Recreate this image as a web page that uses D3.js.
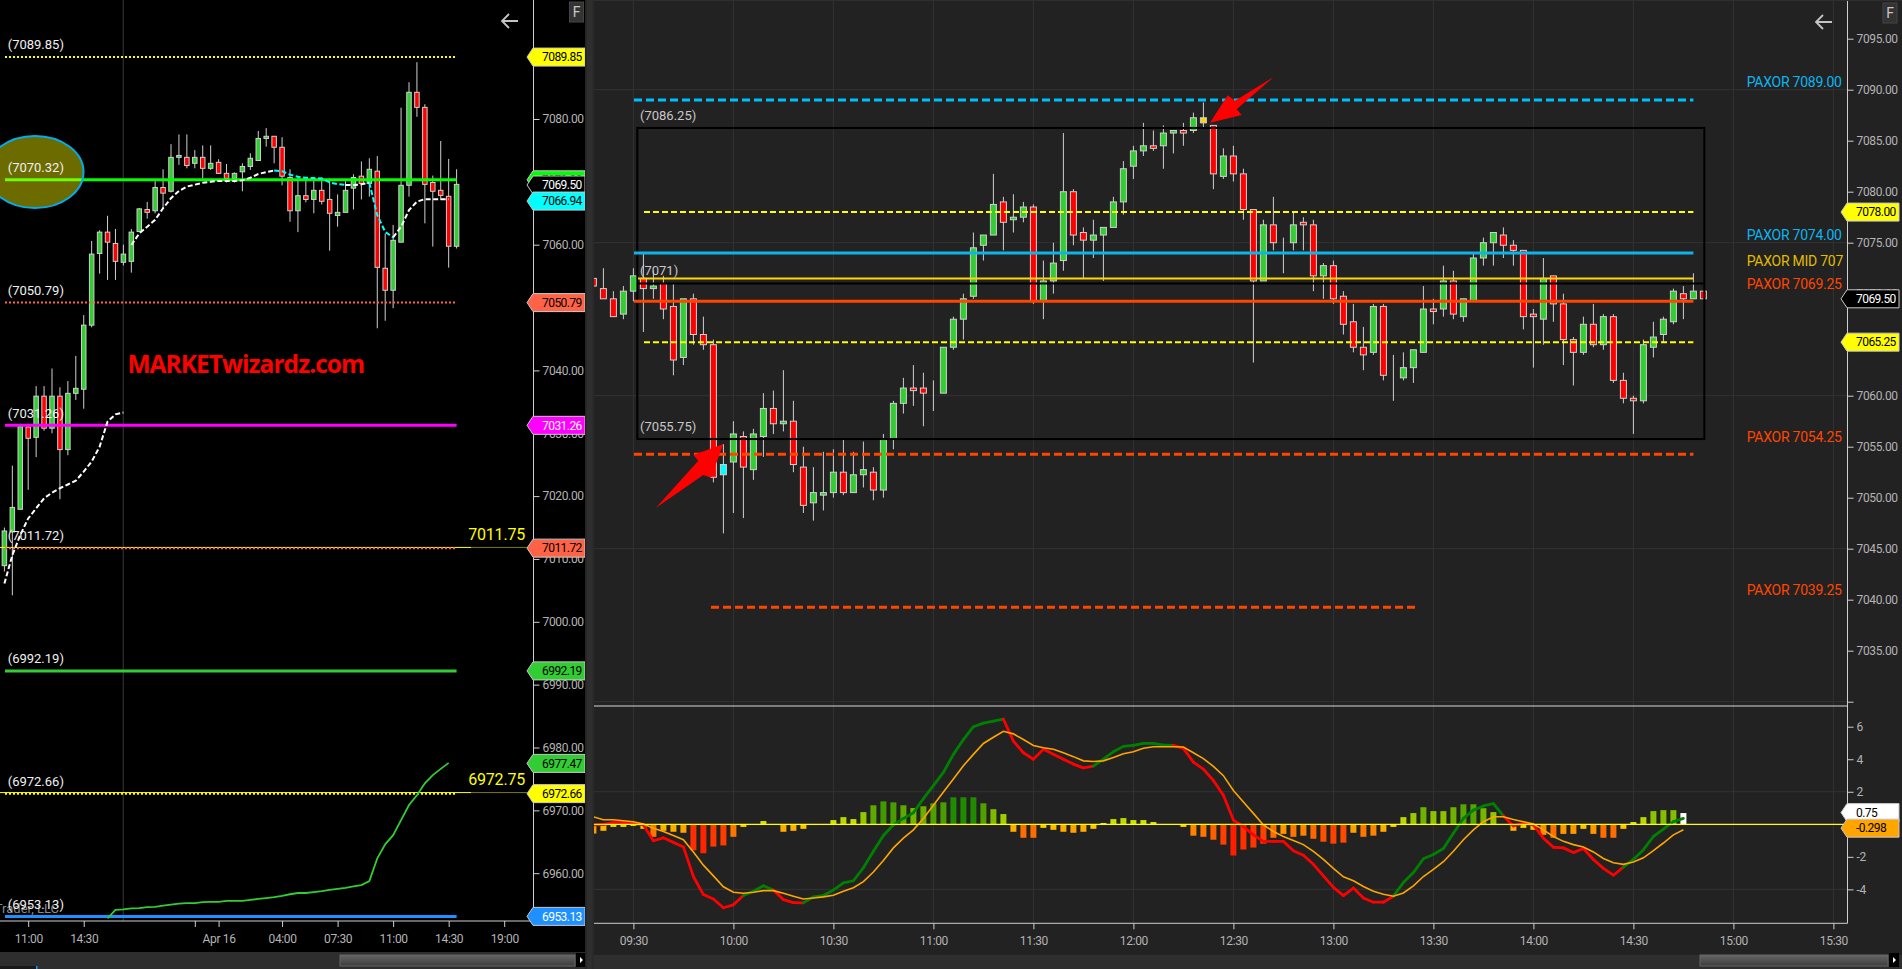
<!DOCTYPE html>
<html>
<head>
<meta charset="utf-8">
<title>MARKETwizardz</title>
<script src="https://cdn.jsdelivr.net/npm/d3@7"></script>
<style>
  html, body { margin: 0; padding: 0; background: #222; overflow: hidden; }
  svg { display: block; }
  text { font-family: Roboto, "Open Sans", sans-serif; }
</style>
</head>
<body>
<svg id="chart" width="1902" height="969"></svg>
<script>
//left chart data, 30 minute bars
var leftOpen = [7008.93,7014.3,7017.9,7031,7029.35,7035.9,7030.8,7035.9,7027.4,7036.35,7037,7047.2,7058.6,7062,7060.2,7057.2,7057.35,7062.1,7065.6,7065.4,7069.1,7068.5,7073.9,7073.9,7072.95,7073.9,7072.15,7073.1,7071.35,7070.55,7071.6,7072.45,7073.4,7076.9,7077.25,7075.5,7070.7,7065.4,7067.8,7067.2,7068.65,7067.2,7064.65,7065.15,7069,7070.9,7069.75,7071.7,7056.25,7052.75,7060.4,7069.45,7084.25,7081.85,7069.9,7068.65,7067.7,7059.75];
var leftHigh = [7015,7024.84,7031.5,7031.5,7037.5,7037.5,7040.3,7037.3,7038.3,7042.3,7048.8,7060.6,7062.3,7064.6,7062.5,7060,7062.5,7065.85,7066.8,7070.15,7072,7076,7077.55,7077.55,7075.05,7075.8,7075.8,7073.6,7072.85,7071.5,7072.95,7074.55,7078.1,7078.55,7077.25,7077.1,7072,7070.7,7070.3,7070.7,7070.7,7070.55,7068,7070.1,7071.2,7073.25,7073.75,7074.1,7061.8,7063.15,7081.8,7085.85,7089.05,7082.35,7071,7076.5,7073.65,7072];
var leftLow = [7008,7004.2,7017.9,7021,7026.2,7030.4,7030,7019.5,7026.5,7035.3,7033.9,7046.85,7055.4,7054.4,7054.4,7056.7,7055.55,7062,7064.15,7065,7065.8,7068.3,7072.7,7072.15,7072.15,7070.55,7071.9,7071.25,7069.9,7069.9,7068.5,7071.9,7073.4,7075.6,7072.95,7069.45,7063.65,7062,7066.75,7065,7066.4,7059.05,7062.85,7065.15,7065.6,7067.2,7067.65,7046.7,7047.9,7049.9,7060.4,7067.65,7080.35,7063.4,7059.7,7067.1,7056.35,7059.4];
var leftClose = [7014.45,7018.2,7031.05,7029.2,7035.9,7030.8,7035.9,7027.4,7036.35,7037.15,7047.2,7058.5,7062,7060.4,7057.35,7058.5,7062,7065.7,7065.15,7069.1,7068.2,7073.9,7074.2,7072.6,7073.9,7072.15,7072.95,7071.35,7070.55,7071.35,7072.45,7073.75,7076.9,7077.25,7075.5,7070.9,7065.4,7067.8,7067.2,7068.65,7066.9,7065,7065.15,7068.65,7070.7,7069.75,7072,7056.4,7052.75,7060.7,7069.45,7084.25,7081.85,7069.6,7068.5,7067.85,7059.75,7069.6];

//moving average on the left chart, two pieces with a gap
var leftAvgA = [7006.1,7010.6,7013.8,7016.45,7018.05,7019.65,7020.55,7021.25,7021.85,7022.45,7023.9,7025.5,7027.85,7031.85,7033,7033.3];
var leftAvgB = [7059.95,7061.8,7062.85,7063.95,7065.8,7067.4,7068.55,7069.25,7069.55,7069.85,7070,7070.15,7070.15,7070.15,7070.25,7070.65,7071.25,7071.55,7071.8,7071.7,7071.15,7070.8,7070.65,7070.6,7070.55,7069.9,7069.65,7069.5,7069.5,7069.6,7069.85,7064.7,7062.05,7061.15,7062.85,7065.5,7066.85,7067.25,7067.25,7067.25,7067.25];
//green line at the bottom, starts at bar 13
var leftGreen = [6952.8,6954.15,6954.25,6954.4,6954.45,6954.6,6954.65,6954.85,6955,6955.15,6955.25,6955.25,6955.4,6955.45,6955.45,6955.6,6955.6,6955.6,6955.75,6955.9,6956.05,6956.2,6956.4,6956.65,6956.85,6956.85,6957,6957.15,6957.35,6957.5,6957.65,6957.9,6958.1,6958.75,6962.35,6964.6,6966.05,6968.45,6970.85,6972.4,6974.3,6975.6,6976.6,6977.55];

var leftLevels = [7089.85,7070.32,7050.79,7031.26,7011.72,6992.19,6972.66,6953.13];
var leftPriceTicks = [7090,7080,7070,7060,7050,7040,7030,7020,7010,7000,6990,6980,6970,6960];
var leftTimeTicks = [3,10,24,27,35,42,49,56,63];
var leftTimeLabels = ["11:00","14:30","","Apr 16","04:00","07:30","11:00","14:30","19:00"];
var leftMarkers = [7089.85,7070.32,7069.50,7066.94,7050.79,7031.26,7011.72,6992.19,6977.47,6972.66,6953.13];
var leftBigLevels = [7011.75,6972.75];

//right chart data, 3 minute bars
var rightOpen = [7071.5,7070.5,7069.5,7068,7070.25,7071.5,7070.5,7071,7068.75,7063.75,7069.5,7066,7065,7052.25,7053.5,7056,7052.75,7056,7058.75,7057.25,7057.5,7053,7049.5,7050.25,7050.5,7052.5,7050.5,7052.25,7052.5,7050.75,7055.75,7059.25,7060.75,7060.75,7060.5,7060.25,7064.75,7067.5,7069.75,7074.75,7075.75,7079,7077.25,7077.5,7078.5,7069.25,7071.25,7073.25,7080,7076,7075.25,7075.75,7076.5,7079,7082.5,7084,7084.5,7084.5,7085.75,7086,7086,7086.75,7086.5,7081.5,7083.5,7081.75,7078.25,7071.25,7076.75,7075,7075,7077,7076.75,7071.75,7072.75,7069.75,7067.25,7064.75,7064.25,7068.75,7062,7061.75,7062.75,7064.25,7068.5,7068.5,7071.25,7067.75,7069.25,7073.5,7075,7075.75,7074.75,7074.25,7068,7067.5,7071.75,7069,7065.5,7064.25,7067,7065,7067.75,7061.5,7059.75,7059.5,7064.75,7066,7067.25,7070,7069.5,7070.25];
var rightHigh = [7071.5,7072.5,7070.25,7070.75,7072.5,7074,7072.25,7071.75,7071,7069.5,7070,7067.75,7065.5,7055.25,7057.5,7056.5,7056.75,7060.25,7060.5,7062.5,7059.5,7055,7053,7054.5,7054.75,7055.75,7054.5,7055.5,7053,7056.25,7059.5,7061.75,7063,7062.25,7061.5,7064.75,7067.75,7070,7076,7075.75,7081.75,7079.5,7079.75,7079,7078.75,7073.25,7075,7085.75,7080.25,7076.5,7077.25,7076.5,7079.5,7083,7084.5,7086.75,7086,7086.5,7086,7086.75,7087.75,7088.75,7086.5,7084.25,7084.5,7082.25,7078.25,7077.25,7079.5,7075.5,7078,7077.5,7077.25,7073,7073.25,7070.25,7069,7066.75,7069,7069,7064,7064.25,7064.5,7070.75,7069.5,7072.75,7072.25,7069.5,7074,7075.5,7076,7076.5,7075.25,7074.25,7068.5,7073.5,7071.75,7070,7065.75,7067.75,7069,7068,7068,7062.25,7060,7065.5,7067.25,7067.75,7070.5,7070.75,7072,7070.25];
var rightLow = [7070.75,7069.5,7067.75,7067.5,7069.25,7066.25,7069.5,7067.5,7062,7063,7065,7064.5,7051.5,7046.5,7048.5,7048,7051.75,7054,7056.25,7056.5,7052.5,7048.5,7047.75,7048.75,7050,7050.25,7050.5,7051,7049.75,7050,7054.75,7058.25,7059,7057,7058.5,7060.25,7064.5,7065.5,7069.5,7073.25,7075.75,7074.25,7076,7077,7069,7067.5,7070,7072.25,7074.75,7071.5,7073.5,7071.25,7076.5,7077.75,7081.25,7083.5,7084,7082.25,7083.75,7084.5,7085.75,7086.25,7080.25,7081.25,7081,7077.25,7063.25,7071.25,7074.25,7072,7074.25,7074.25,7070.25,7069.5,7069,7066,7064.25,7062.5,7064,7061.5,7059.5,7061.5,7061.25,7064.25,7067,7067.75,7067.5,7067.25,7069.25,7072.75,7072.75,7073.5,7072.75,7066.5,7062.75,7065,7067.25,7063,7061,7064,7064.75,7064.5,7061.25,7059.25,7056.25,7059.25,7063.75,7065.25,7067,7067.5,7069.5,7069.5];
var rightClose = [7070.75,7069.5,7067.75,7070.25,7071.75,7070.5,7070.75,7068.5,7063.5,7069.5,7066,7065,7052,7053.25,7056.25,7053,7056.25,7058.75,7057.25,7057.5,7053.25,7049.25,7050.5,7050.5,7052.5,7050.5,7052.25,7052.75,7050.75,7055.75,7059.25,7060.75,7060.5,7060.25,7060.5,7064.75,7067.5,7069.5,7074.5,7075.75,7078.75,7077,7077.5,7078.5,7069.25,7071.25,7073,7080,7075.75,7075.25,7075.75,7076.5,7079,7082.25,7084,7084.5,7084.25,7085.75,7086,7085.75,7087.25,7087.25,7081.75,7083.5,7081.75,7078.25,7071.25,7076.75,7075,7075,7076.75,7076.75,7071.75,7072.75,7069.5,7067,7064.75,7064,7068.75,7062,7062,7062.75,7064.5,7068.5,7068.25,7071.25,7068,7069.5,7073.5,7075,7076,7074.75,7074.25,7067.75,7067.75,7071.5,7069,7065.5,7064.25,7067,7065,7067.75,7061.5,7059.75,7059.5,7065,7065.75,7067.5,7070.25,7069.5,7070.25,7069.5];

var rightPriceTicks = [7095,7090,7085,7080,7075,7070,7065,7060,7055,7050,7045,7040,7035,7030];
var rightGridPrices = [7090,7075,7060,7045,7030];
var rightTimeTicks = [4,14,24,34,44,54,64,74,84,94,104,114,124];
var rightTimeLabels = ["09:30","10:00","10:30","11:00","11:30","12:00","12:30","13:00","13:30","14:00","14:30","15:00","15:30"];

var paxorLevels = [7089,7074,7071.5,7069.25,7054.25,7039.25];
var paxorLabels = ["PAXOR 7089.00","PAXOR 7074.00","PAXOR MID 707","PAXOR 7069.25","PAXOR 7054.25","PAXOR 7039.25"];
var innerLevels = [7078,7065.25];
var boxTop = 7086.25, boxMid = 7071, boxBottom = 7055.75;
var boxLabels = ["(7086.25)","(7071)","(7055.75)"];
var rightMarkers = [7078,7069.5,7065.25];

//indicator, one value per bar from bar 0 to bar 109
var histValues = [-0.57,-0.4,-0.16,-0.16,-0.1,-0.28,-0.77,-0.4,-0.46,-0.52,-1.6,-1.78,-1.37,-1.3,-0.77,-0.16,0,0.2,0,-0.46,-0.4,-0.28,0.02,0.02,0.26,0.44,0.32,0.75,1.17,1.41,1.35,1.17,1,1.11,1.29,1.35,1.66,1.66,1.66,1.29,0.93,0.63,-0.46,-0.83,-0.83,-0.22,-0.34,-0.46,-0.52,-0.46,-0.28,0.08,0.32,0.38,0.26,0.26,0.14,0,0,-0.16,-0.7,-0.77,-0.95,-1.25,-1.92,-1.55,-1.43,-1.19,-0.83,-0.59,-0.77,-0.7,-0.89,-1.07,-1.19,-1.13,-0.52,-0.77,-0.7,-0.46,-0.16,0.44,0.69,1.05,0.81,0.81,1.05,1.23,1.23,0.99,0.75,0,-0.4,-0.22,-0.34,-0.65,-0.83,-0.59,-0.59,-0.28,-0.59,-0.83,-0.83,-0.28,0.14,0.44,0.81,0.87,0.87,0.69];
var macdValues = [-0.04,-0.02,0.12,0.1,0.06,-0.04,-1.01,-0.83,-1.11,-1.39,-3.21,-4.32,-4.59,-5.13,-4.95,-4.38,-4.12,-3.78,-4.04,-4.63,-4.81,-4.83,-4.46,-4.38,-4.04,-3.6,-3.47,-2.67,-1.66,-0.69,-0.04,0.36,0.71,1.58,2.38,3.19,4.3,5.21,6,6.22,6.34,6.46,5.11,4.4,4,4.61,4.3,4,3.7,3.47,3.58,4,4.46,4.79,4.85,4.97,4.97,4.87,4.85,4.67,3.82,3.39,2.69,1.78,0.26,-0.14,-0.65,-1.05,-1.05,-1.05,-1.62,-1.9,-2.46,-3.17,-3.88,-4.38,-3.92,-4.53,-4.79,-4.79,-4.42,-3.58,-2.97,-2.12,-1.86,-1.49,-0.55,0.36,0.87,1.13,1.27,0.51,-0.1,0.06,-0.04,-0.85,-1.41,-1.45,-1.74,-1.49,-2.16,-2.71,-3.13,-2.63,-2.16,-1.56,-0.75,-0.3,0.16,0.36];
var signalValues = [0.46,0.28,0.28,0.22,0.16,0.02,-0.24,-0.44,-0.69,-0.95,-1.7,-2.51,-3.17,-3.84,-4.18,-4.24,-4.18,-4.08,-4.08,-4.24,-4.42,-4.59,-4.53,-4.46,-4.36,-4.12,-3.9,-3.52,-2.93,-2.22,-1.45,-0.85,-0.34,0.36,1.17,1.98,2.79,3.6,4.3,4.97,5.35,5.72,5.56,5.21,4.85,4.71,4.61,4.4,4.16,3.9,3.86,3.9,4.1,4.34,4.46,4.67,4.77,4.77,4.77,4.75,4.4,4.04,3.56,2.99,2.08,1.37,0.67,-0.04,-0.44,-0.75,-0.99,-1.25,-1.66,-2.16,-2.71,-3.23,-3.47,-3.82,-4.12,-4.3,-4.42,-4.22,-3.78,-3.21,-2.77,-2.3,-1.66,-0.95,-0.34,0.16,0.46,0.46,0.3,0.16,0.02,-0.34,-0.75,-1.05,-1.25,-1.39,-1.7,-2.1,-2.36,-2.46,-2.32,-2.06,-1.62,-1.15,-0.65,-0.34];
var indicatorTicks = [6,4,2,0,-2,-4];
var indicatorGrid = [2,-4];
var indicatorMarkers = [0.75,-0.298];

//colours, kept apart from the numbers
var upColor = "#32cd32", downColor = "#ff0000", wickColor = "#cfcfcf", axisColor = "#cfcfcf", labelColor = "#b4b4b4";
var leftLevelStyles = [
  {color: "#ffff00", width: 2, dash: "2,2"},
  {color: "#00ff00", width: 3, dash: null},
  {color: "#ff6347", width: 2, dash: "2,2"},
  {color: "#ff00ff", width: 3, dash: null},
  {color: "#ff6347", width: 2, dash: "2,2"},
  {color: "#32cd32", width: 3, dash: null},
  {color: "#ffff00", width: 2, dash: "2,2"},
  {color: "#1e90ff", width: 3, dash: null}
];
var leftMarkerStyles = [
  {fill: "#ffff00", text: "#000"},
  {fill: "#00ff00", text: "#000"},
  {fill: "#000000", text: "#fff"},
  {fill: "#00ffff", text: "#000"},
  {fill: "#ff6347", text: "#000"},
  {fill: "#ff00ff", text: "#fff"},
  {fill: "#ff6347", text: "#000"},
  {fill: "#32cd32", text: "#000"},
  {fill: "#32cd32", text: "#000"},
  {fill: "#ffff00", text: "#000"},
  {fill: "#1e90ff", text: "#fff"}
];
var paxorStyles = [
  {color: "#00bfff", width: 3, dash: "8,4", text: "#0db4f0"},
  {color: "#0db4e8", width: 3, dash: null, text: "#0db4f0"},
  {color: "#ffd700", width: 2, dash: null, text: "#e0bb00"},
  {color: "#ff4500", width: 3, dash: null, text: "#ff4500"},
  {color: "#ff4500", width: 3, dash: "8,4", text: "#ff4500"},
  {color: "#ff4500", width: 3, dash: "8,4", text: "#ff4500"}
];
var rightMarkerStyles = [
  {fill: "#ffff00", text: "#000"},
  {fill: "#000000", text: "#fff"},
  {fill: "#ffff00", text: "#000"}
];
var indicatorMarkerStyles = [
  {fill: "#ffffff", text: "#000"},
  {fill: "#ffa500", text: "#000"}
];

//scales
var yLeft = d3.scaleLinear().domain([7080, 6960]).range([119, 873.2]);
var xLeft = d3.scaleLinear().domain([0, 57]).range([4.4, 456.6]);
var yRight = d3.scaleLinear().domain([7090, 7055]).range([89.7, 446.7]);
var xRight = d3.scaleLinear().domain([0, 111]).range([593.4, 1703.4]);
var yInd = d3.scaleLinear().domain([0, 6]).range([824.3, 726.7]);

var negColor = d3.scaleLinear().domain([0, -0.2, -0.5, -0.8, -1.2, -1.9]).range(["#ffe600", "#ffd000", "#ffa500", "#ff7000", "#ff4000", "#ff1e00"]);
var posColor = d3.scaleLinear().domain([0, 0.3, 0.8, 1.3, 1.7]).range(["#e8f000", "#c8e000", "#8cc400", "#4ea000", "#1a8a00"]);

var svg = d3.select("#chart");

svg.append("rect").attr("width", 1902).attr("height", 969).attr("fill", "#2e2e2e");
svg.append("rect").attr("x", 0).attr("y", 0).attr("width", 585).attr("height", 952).attr("fill", "#000");
svg.append("rect").attr("x", 594).attr("y", 1).attr("width", 1308).attr("height", 954).attr("fill", "#222");

var defs = svg.append("defs");
defs.append("clipPath").attr("id", "clipRight").append("rect").attr("x", 594).attr("y", 0).attr("width", 1254).attr("height", 706);
defs.append("clipPath").attr("id", "clipInd").append("rect").attr("x", 594).attr("y", 707).attr("width", 1254).attr("height", 216);
var thumbFill = defs.append("linearGradient").attr("id", "thumbFill").attr("x1", 0).attr("x2", 0).attr("y1", 0).attr("y2", 1);
thumbFill.append("stop").attr("offset", 0).attr("stop-color", "#666");
thumbFill.append("stop").attr("offset", 1).attr("stop-color", "#3c3c3c");

function drawCandles(g, x, y, open, high, low, close, bodyWidth, specials) {
  var bars = g.selectAll(".bar").data(open).enter().append("g").attr("class", "bar");
  bars.append("line")
      .attr("x1", function(d, i) { return x(i); })
      .attr("x2", function(d, i) { return x(i); })
      .attr("y1", function(d, i) { return y(high[i]); })
      .attr("y2", function(d, i) { return y(low[i]); })
      .attr("stroke", wickColor).attr("stroke-width", 1);
  bars.append("rect")
      .attr("x", function(d, i) { return x(i) - bodyWidth / 2; })
      .attr("width", bodyWidth)
      .attr("y", function(d, i) { return y(Math.max(open[i], close[i])); })
      .attr("height", function(d, i) { return Math.abs(y(open[i]) - y(close[i])); })
      .attr("fill", function(d, i) {
        if (specials && specials[i]) return specials[i];
        return close[i] >= open[i] ? upColor : downColor;
      })
      .attr("stroke", wickColor).attr("stroke-width", 1);
}

function hline(g, x1, x2, yy, color, width, dash) {
  return g.append("line").attr("x1", x1).attr("x2", x2).attr("y1", yy).attr("y2", yy)
      .attr("stroke", color).attr("stroke-width", width).attr("stroke-dasharray", dash);
}

function drawMarker(g, x, yy, label, style, right) {
  var h = 9, notch = 6;
  g.append("path")
      .attr("d", "M" + x + "," + yy + "L" + (x + notch) + "," + (yy - h) + "L" + right + "," + (yy - h) + "L" + right + "," + (yy + h) + "L" + (x + notch) + "," + (yy + h) + "Z")
      .attr("fill", style.fill).attr("stroke", "#c8c8c8").attr("stroke-width", 1);
  g.append("text").attr("x", x + 15).attr("y", yy).attr("dy", "0.36em")
      .attr("fill", style.text).attr("font-size", 12).attr("letter-spacing", "-0.55px").text(label);
}

function styleAxis(g) {
  g.select(".domain").remove();
  g.selectAll("line").attr("stroke", axisColor);
  g.selectAll("text").attr("fill", labelColor).attr("font-size", 12).attr("letter-spacing", "-0.35px")
   .style("font-family", "Roboto, sans-serif");
}

function backArrow(g, cx, cy) {
  g.append("path").attr("d", "M" + (cx + 8) + "," + cy + "H" + (cx - 8) + "M" + (cx - 1) + "," + (cy - 7) + "L" + (cx - 8) + "," + cy + "L" + (cx - 1) + "," + (cy + 7))
      .attr("fill", "none").attr("stroke", "#c4c4c4").attr("stroke-width", 1.8);
}

function fButton(g, x, y) {
  g.append("rect").attr("x", x).attr("y", y).attr("width", 14).attr("height", 20).attr("fill", "#333").attr("stroke", "#444");
  g.append("text").attr("x", x + 7).attr("y", y + 10).attr("dy", "0.36em").attr("text-anchor", "middle")
      .attr("fill", "#c8c8c8").attr("font-size", 14).text("F");
}

/* left chart */
var left = svg.append("g").attr("id", "leftChart");

left.append("line").attr("x1", 123.2).attr("x2", 123.2).attr("y1", 0).attr("y2", 921).attr("stroke", "#3a3a3a");
left.append("text").attr("x", 59).attr("y", 908).attr("dy", "0.35em").attr("text-anchor", "end")
    .attr("fill", "#8a8a8a").attr("font-size", 13).text("NinjaTrader, LLC");

drawCandles(left.append("g"), xLeft, yLeft, leftOpen, leftHigh, leftLow, leftClose, 4.5, null);

//thin yellow lines with big numbers
leftBigLevels.forEach(function(v) {
  hline(left, 0, 471, yLeft(v) - 0.5, "#ffff00", 1);
  hline(left, 471, 527, yLeft(v) - 0.5, "#7c7a00", 1);
  left.append("text").attr("x", 525).attr("y", yLeft(v) - 13.5).attr("dy", "0.35em").attr("text-anchor", "end")
      .attr("fill", "#ffff00").attr("font-size", 16).attr("letter-spacing", "-0.2px").text(v.toFixed(2));
});

leftLevels.forEach(function(v, i) {
  var st = leftLevelStyles[i];
  hline(left, 5, 456.6, yLeft(v), st.color, st.width, st.dash);
});

//green line near the bottom
var greenLine = d3.line().x(function(d, i) { return xLeft(i + 13); }).y(function(d) { return yLeft(d); });
left.append("path").datum(leftGreen).attr("d", greenLine).attr("fill", "none").attr("stroke", "#32cd32").attr("stroke-width", 1.8);

//dashed average, white going up and cyan going down
function drawAvg(values, firstIndex) {
  var runs = [], cur = null;
  for (var i = 0; i < values.length - 1; i++) {
    var c = values[i + 1] < values[i] ? "#00ffff" : "#ffffff";
    if (!cur || cur.color != c) {
      cur = {color: c, pts: [{i: i + firstIndex, v: values[i]}]};
      runs.push(cur);
    }
    cur.pts.push({i: i + 1 + firstIndex, v: values[i + 1]});
  }
  var line = d3.line().x(function(d) { return xLeft(d.i); }).y(function(d) { return yLeft(d.v); });
  runs.forEach(function(r) {
    left.append("path").datum(r.pts).attr("d", line).attr("fill", "none")
        .attr("stroke", r.color).attr("stroke-width", 2).attr("stroke-dasharray", "5,2.5");
  });
}
drawAvg(leftAvgA, 0);
drawAvg(leftAvgB, 16);

left.append("ellipse").attr("cx", 35).attr("cy", 172).attr("rx", 48.5).attr("ry", 36)
    .attr("fill", "rgba(255,255,0,0.42)").attr("stroke", "#00aeef").attr("stroke-width", 2);

leftLevels.forEach(function(v) {
  left.append("text").attr("x", 7.7).attr("y", yLeft(v) - 12.3).attr("dy", "0.35em")
      .attr("fill", "#f0f0f0").attr("font-size", 13).text("(" + v.toFixed(2) + ")");
});

left.append("text").attr("x", 127.4).attr("y", 364).attr("dy", "0.36em")
    .attr("fill", "#ff0000").attr("font-size", 24.5).attr("font-weight", 700).attr("letter-spacing", "-0.95px")
    .style("font-family", "'Open Sans', sans-serif")
    .text("MARKETwizardz.com");

backArrow(left, 510, 21);

var leftPriceAxis = d3.axisRight(yLeft).tickValues(leftPriceTicks).tickSize(6).tickPadding(3).tickFormat(d3.format(".2f"));
left.append("g").attr("transform", "translate(533.5,0)").call(leftPriceAxis).call(styleAxis);
left.append("line").attr("x1", 533.5).attr("x2", 533.5).attr("y1", 0).attr("y2", 921).attr("stroke", axisColor);

var leftTimeAxis = d3.axisBottom(xLeft).tickValues(leftTimeTicks).tickSize(6).tickPadding(7)
    .tickFormat(function(d, i) { return leftTimeLabels[i]; });
left.append("g").attr("transform", "translate(0,921)").call(leftTimeAxis).call(styleAxis);
left.append("line").attr("x1", 0).attr("x2", 533.5).attr("y1", 921).attr("y2", 921).attr("stroke", axisColor);

leftMarkers.forEach(function(v, i) {
  drawMarker(left, 527, yLeft(v), v.toFixed(2), leftMarkerStyles[i], 585);
});
fButton(left, 569.5, 2);

/* right chart */
var right = svg.append("g").attr("id", "rightChart");

rightGridPrices.forEach(function(p) {
  hline(right, 594, 1847.5, yRight(p), "#333", 1);
});
indicatorGrid.forEach(function(p) {
  hline(right, 594, 1847.5, yInd(p), "#333", 1);
});
rightTimeTicks.forEach(function(t) {
  right.append("line").attr("x1", xRight(t)).attr("x2", xRight(t)).attr("y1", 1).attr("y2", 923).attr("stroke", "#333");
});

var rightPlot = right.append("g").attr("clip-path", "url(#clipRight)");
drawCandles(rightPlot.append("g"), xRight, yRight, rightOpen, rightHigh, rightLow, rightClose, 6, {13: "#00ffff", 61: "#ffd700"});

//black box around the range
rightPlot.append("rect").attr("x", 637.3).attr("y", yRight(boxTop))
    .attr("width", 1067).attr("height", yRight(boxBottom) - yRight(boxTop))
    .attr("fill", "none").attr("stroke", "#000").attr("stroke-width", 2);
hline(rightPlot, 637.3, 1704.3, yRight(boxMid), "#000", 2);

innerLevels.forEach(function(v) {
  hline(rightPlot, 644, 1693.4, yRight(v), "#ffff00", 2, "6,3");
});
paxorLevels.forEach(function(v, i) {
  var st = paxorStyles[i];
  var startX = i == 5 ? 711 : (i == 2 ? 638 : 634);
  var endX = i == 5 ? 1419 : 1693.4;
  hline(rightPlot, startX, endX, yRight(v) , st.color, st.width, st.dash);
  right.append("text").attr("x", 1746.7).attr("y", yRight(v) - 17.5).attr("dy", "0.36em")
      .attr("fill", st.text).attr("font-size", 14).attr("letter-spacing", "-0.25px").text(paxorLabels[i]);
});

[boxTop, boxMid, boxBottom].forEach(function(v, i) {
  right.append("text").attr("x", 640).attr("y", yRight(v) - 13).attr("dy", "0.36em")
      .attr("fill", "#c8c8c8").attr("font-size", 13).text(boxLabels[i]);
});

//red arrows drawn on the picture
var arrowA = [[723.3,444],[693.3,455],[698.3,460.7],[656,507.7],[703.3,475],[711,477.7]];
var arrowB = [[1210,122.7],[1227.7,95.3],[1235,100.7],[1273.3,77.3],[1236.7,109.3],[1241.7,115]];
[arrowA, arrowB].forEach(function(a) {
  right.append("path").attr("d", d3.line()(a) + "Z").attr("fill", "#ff0000");
});

backArrow(right, 1824, 22);

var rightPriceAxis = d3.axisRight(yRight).tickValues(rightPriceTicks).tickSize(6).tickPadding(3)
    .tickFormat(function(d) { return d == 7030 ? "" : d3.format(".2f")(d); });
right.append("g").attr("transform", "translate(1847.5,0)").call(rightPriceAxis).call(styleAxis);
right.append("line").attr("x1", 1847.5).attr("x2", 1847.5).attr("y1", 1).attr("y2", 923.3).attr("stroke", axisColor);

rightMarkers.forEach(function(v, i) {
  drawMarker(right, 1841, yRight(v), v.toFixed(2), rightMarkerStyles[i], 1899);
});
fButton(right, 1883, 3);

/* indicator panel */
hline(right, 594, 1847.5, 706, "#d8d8d8", 1);
var ind = right.append("g").attr("clip-path", "url(#clipInd)");

ind.selectAll(".hist").data(histValues).enter().append("rect").attr("class", "hist")
    .attr("x", function(d, i) { return xRight(i) - 3; })
    .attr("width", 6)
    .attr("y", function(d) { return Math.min(yInd(d), yInd(0)); })
    .attr("height", function(d) { return Math.abs(yInd(d) - yInd(0)); })
    .attr("fill", function(d, i) {
      if (i == histValues.length - 1) return "#ffffff";
      return d < 0 ? negColor(d) : posColor(d);
    });

//macd goes green while above the signal line
var macdLine = d3.line().x(function(d) { return xRight(d.i); }).y(function(d) { return yInd(d.v); });
macdValues.forEach(function(v, i) {
  if (i == 0) return;
  var c = v > signalValues[i] ? "#008000" : "#ff0000";
  ind.append("path").datum([{i: i - 1, v: macdValues[i - 1]}, {i: i, v: v}]).attr("d", macdLine)
      .attr("fill", "none").attr("stroke", c).attr("stroke-width", 2.8).attr("stroke-linecap", "round");
});
ind.append("path").datum(signalValues.map(function(v, i) { return {i: i, v: v}; })).attr("d", macdLine)
    .attr("fill", "none").attr("stroke", "#ffa500").attr("stroke-width", 1.6);

hline(ind, 594, 1847.5, yInd(0), "#ffff00", 1.2);

var indAxis = d3.axisRight(yInd).tickValues(indicatorTicks).tickSize(6).tickPadding(3)
    .tickFormat(function(d) { return d; });
right.append("g").attr("transform", "translate(1847.5,0)").call(indAxis).call(styleAxis);

var rightTimeAxis = d3.axisBottom(xRight).tickValues(rightTimeTicks).tickSize(6).tickPadding(7)
    .tickFormat(function(d, i) { return rightTimeLabels[i]; });
right.append("g").attr("transform", "translate(0,923.3)").call(rightTimeAxis).call(styleAxis);
right.append("line").attr("x1", 594).attr("x2", 1847.5).attr("y1", 923.3).attr("y2", 923.3).attr("stroke", axisColor);

indicatorMarkers.forEach(function(v, i) {
  drawMarker(right, 1841, yInd(v) + (i == 0 ? 0.5 : -1), String(v), indicatorMarkerStyles[i], 1899);
});

/* scrollbars */
var bottom = svg.append("g");
function scrollBar(x1, x2, btnX) {
  bottom.append("rect").attr("x", x1).attr("y", 955).attr("width", x2 - x1).attr("height", 11)
      .attr("fill", "url(#thumbFill)").attr("stroke", "#666");
  bottom.append("rect").attr("x", btnX).attr("y", 953).attr("width", 10).attr("height", 14).attr("fill", "#000");
  bottom.append("path").attr("d", "M" + (btnX + 4) + ",957L" + (btnX + 7) + ",960L" + (btnX + 4) + ",963Z").attr("fill", "#fff");
}
scrollBar(340, 575, 576);
scrollBar(1700, 1888, 1889);
bottom.append("rect").attr("x", 0).attr("y", 966).attr("width", 36).attr("height", 3).attr("fill", "#1a1a1a");
bottom.append("rect").attr("x", 36).attr("y", 966).attr("width", 1.5).attr("height", 3).attr("fill", "#1e90ff");
bottom.append("rect").attr("x", 585).attr("y", 0).attr("width", 1.5).attr("height", 969).attr("fill", "#222");
bottom.append("rect").attr("x", 592.5).attr("y", 0).attr("width", 1).attr("height", 969).attr("fill", "#262626");
</script>
</body>
</html>
